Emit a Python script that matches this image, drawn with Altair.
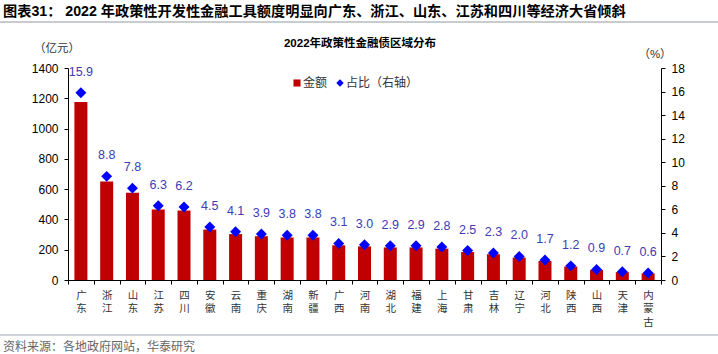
import altair as alt
import pandas as pd

provinces = ["广东", "浙江", "山东", "江苏", "四川", "安徽", "云南", "重庆", "湖南", "新疆",
             "广西", "河南", "湖北", "福建", "上海", "甘肃", "吉林", "辽宁", "河北", "陕西",
             "山西", "天津", "内蒙古"]
amount = [1175, 651, 577, 466, 459, 333, 303, 289, 281, 281,
          229, 222, 215, 215, 207, 185, 170, 148, 126, 89,
          67, 52, 44]
share = [15.9, 8.8, 7.8, 6.3, 6.2, 4.5, 4.1, 3.9, 3.8, 3.8,
         3.1, 3.0, 2.9, 2.9, 2.8, 2.5, 2.3, 2.0, 1.7, 1.2,
         0.9, 0.7, 0.6]
left_ticks = [0, 200, 400, 600, 800, 1000, 1200, 1400]
right_ticks = [0, 2, 4, 6, 8, 10, 12, 14, 16, 18]

title_text = "图表31： 2022 年政策性开发性金融工具额度明显向广东、浙江、山东、江苏和四川等经济大省倾斜"
subtitle_text = "2022年政策性金融债区域分布"
source_text = "资料来源：各地政府网站，华泰研究"

df = pd.DataFrame({"province": provinces, "amount": amount, "share": share})

NUM = "Liberation Sans, Arial, sans-serif"
CJK = "Liberation Sans, Noto Sans CJK SC, sans-serif"
RED = "#c00000"
BLUE = "#0000ff"

x_enc = alt.X("province:N", sort=provinces, title=None,
              scale=alt.Scale(paddingInner=0, paddingOuter=0),
              axis=alt.Axis(labelAngle=0, labelExpr="split(datum.label, '')",
                            labelLineHeight=13.5, labelFont="Noto Sans CJK SC",
                            labelFontSize=10.5, labelColor="#333333", labelPadding=6,
                            tickBand="extent", tickSize=4, tickColor="#000000",
                            domainColor="#000000", labelBaseline="top"))

left_axis = alt.Axis(orient="left", values=left_ticks, grid=False, format="d",
                     labelFont=NUM, labelFontSize=12, labelColor="#000000",
                     tickSize=4, tickColor="#000000", domainColor="#000000",
                     labelPadding=6, labelOverlap=False)
right_axis = alt.Axis(orient="right", values=right_ticks, grid=False, format="d",
                      labelFont=NUM, labelFontSize=12, labelColor="#000000",
                      tickSize=4, tickColor="#000000", domainColor="#000000",
                      labelPadding=6, labelOverlap=False)
share_scale = alt.Scale(domain=[0, 18], nice=False)

bars = alt.Chart(df).mark_bar(size=13, color=RED).encode(
    x=x_enc,
    y=alt.Y("amount:Q", title=None,
            scale=alt.Scale(domain=[0, 1400], nice=False), axis=left_axis),
)

points = alt.Chart(df).mark_point(shape="diamond", filled=True, size=120,
                                   color=BLUE, opacity=1).encode(
    x=alt.X("province:N", sort=provinces),
    y=alt.Y("share:Q", title=None, scale=share_scale, axis=right_axis),
)

labels = alt.Chart(df).mark_text(dy=-21, font=NUM, fontSize=12.5,
                                  color="#3c3cb4", baseline="middle").encode(
    x=alt.X("province:N", sort=provinces),
    y=alt.Y("share:Q", title=None, scale=share_scale, axis=right_axis),
    text=alt.Text("share:Q", format=".1f"),
)

main = alt.layer(bars, alt.layer(points, labels)).resolve_scale(y="independent")

one = pd.DataFrame({"t": [""]})

def txt(s, x, y, size, color="#000000", weight="normal", align="left", font=CJK):
    return alt.Chart(pd.DataFrame({"t": [s]})).mark_text(
        fontSize=size, color=color, fontWeight=weight, align=align,
        baseline="middle", font=font).encode(
        text="t:N", x=alt.value(x), y=alt.value(y))

title = txt(title_text, -65, -56, 14.2, weight="bold")
sep_top = alt.Chart(one).mark_rule(color="#c8ccd0", strokeWidth=2).encode(
    x=alt.value(-68), x2=alt.value(650), y=alt.value(-46))
subtitle = txt(subtitle_text, 292, -24, 11.5, weight="bold", align="center")
unit_left = txt("（亿元）", -11, -19, 11.5, align="center", color="#333333")
unit_right = txt("（%）", 587, -13, 11.5, align="center", color="#333333")

leg_sq = alt.Chart(one).mark_point(shape="square", filled=True, size=50,
                                   color=RED, opacity=1).encode(
    x=alt.value(229), y=alt.value(15))
leg_t1 = txt("金额", 235, 15, 12, color="#333333")
leg_dm = alt.Chart(one).mark_point(shape="diamond", filled=True, size=55,
                                   color=BLUE, opacity=1).encode(
    x=alt.value(272), y=alt.value(15))
leg_t2 = txt("占比（右轴）", 278, 15, 12, color="#333333")

sep_bot = alt.Chart(one).mark_rule(color="#d0d4d8", strokeWidth=2).encode(
    x=alt.value(-68), x2=alt.value(650), y=alt.value(267))
source = txt(source_text, -65, 279, 12, color="#666666")

chart = alt.layer(main, title, sep_top, subtitle, unit_left, unit_right,
                  leg_sq, leg_t1, leg_dm, leg_t2, sep_bot, source).properties(
    width=593, height=212,
    padding={"left": 68, "top": 68, "right": 57, "bottom": 74},
    autosize=alt.AutoSizeParams(type="none"),
    background="#ffffff",
).configure_view(stroke=None)

chart.save("out.html", embed_options={"renderer": "svg", "actions": False})
